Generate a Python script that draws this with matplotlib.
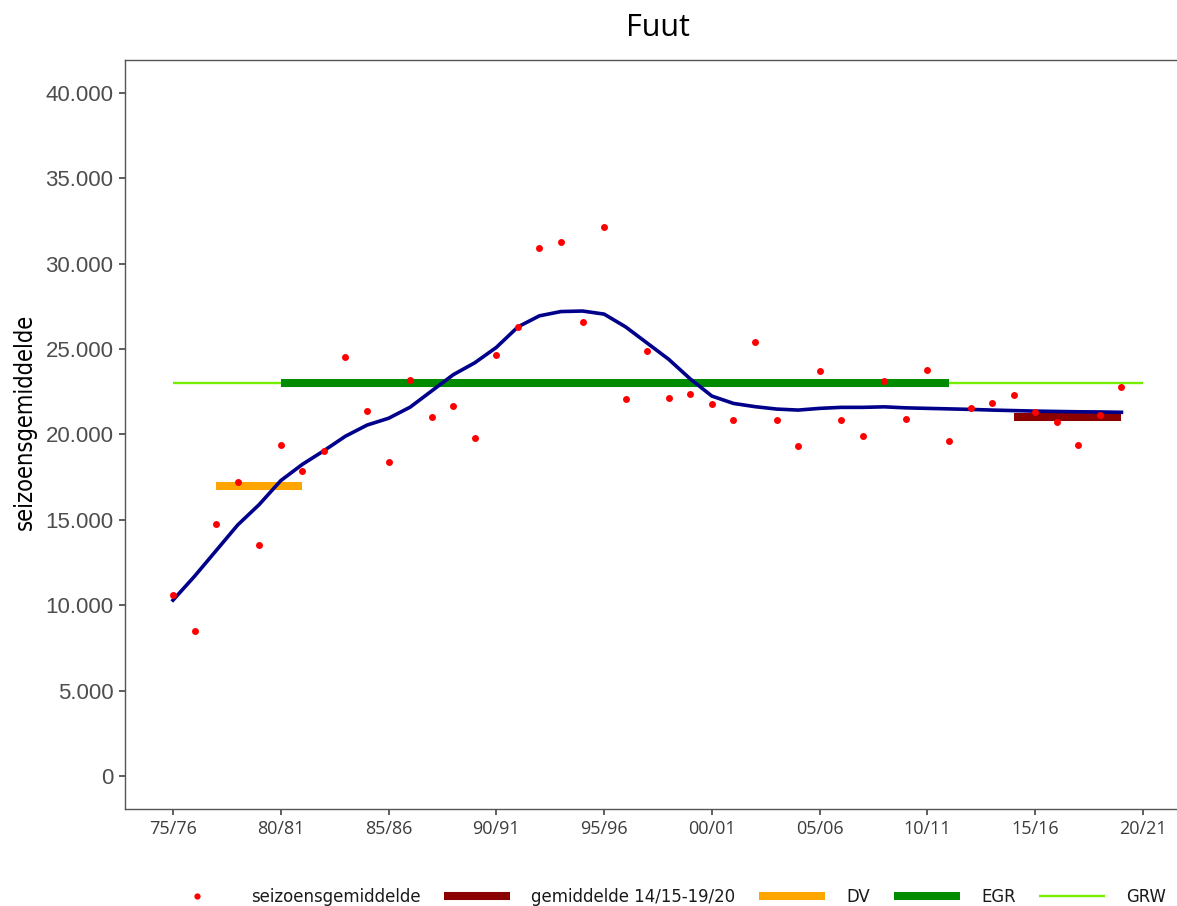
import matplotlib
matplotlib.use("Agg")
import matplotlib.pyplot as plt
from matplotlib import font_manager as fm
from matplotlib.lines import Line2D

# ---------------- data ----------------
seasons = ["75/76", "76/77", "77/78", "78/79", "79/80", "80/81", "81/82", "82/83",
           "83/84", "84/85", "85/86", "86/87", "87/88", "88/89", "89/90", "90/91",
           "91/92", "92/93", "93/94", "94/95", "95/96", "96/97", "97/98", "98/99",
           "99/00", "00/01", "01/02", "02/03", "03/04", "04/05", "05/06", "06/07",
           "07/08", "08/09", "09/10", "10/11", "11/12", "12/13", "13/14", "14/15",
           "15/16", "16/17", "17/18", "18/19", "19/20"]
seizoensgemiddelde = [10600, 8500, 14760, 17220, 13530, 19390, 17860, 19030, 24540,
                      21380, 18390, 23190, 21030, 21670, 19800, 24660, 26300, 30920,
                      31270, 26590, 32150, 22080, 24890, 22140, 22370, 21790, 20850,
                      25420, 20850, 19330, 23720, 20850, 19910, 23130, 20910, 23780,
                      19620, 21550, 21850, 22310, 21320, 20730, 19390, 21140, 22780]
trend = [10300, 11700, 13200, 14700, 15900, 17300, 18250, 19050, 19900, 20550, 20950,
         21600, 22550, 23500, 24200, 25100, 26300, 26950, 27200, 27230, 27050, 26300,
         25350, 24400, 23250, 22250, 21820, 21630, 21490, 21430, 21530, 21590, 21590,
         21620, 21560, 21530, 21500, 21470, 21430, 21400, 21370, 21350, 21330, 21320,
         21300]
xtick_labels = ["75/76", "80/81", "85/86", "90/91", "95/96", "00/01", "05/06",
                "10/11", "15/16", "20/21"]
ytick_values = [0, 5000, 10000, 15000, 20000, 25000, 30000, 35000, 40000]
ytick_labels = ["0", "5.000", "10.000", "15.000", "20.000", "25.000", "30.000",
                "35.000", "40.000"]

grw_level, grw_from, grw_to = 23000, "75/76", "20/21"
egr_level, egr_from, egr_to = 23000, "80/81", "11/12"
dv_level, dv_from, dv_to = 17000, "77/78", "81/82"
mean_level, mean_from, mean_to = 21000, "14/15", "19/20"

# ---------------- fonts ----------------
names = {f.name for f in fm.fontManager.ttflist}
def pick(*cands):
    for c in cands:
        if c in names:
            return c
    return "DejaVu Sans"

cond_fp = None
for f in fm.fontManager.ttflist:
    if "Condensed" in f.fname and "DejaVuSans" in f.fname and "Bold" not in f.fname \
            and "Oblique" not in f.fname:
        cond_fp = fm.FontProperties(fname=f.fname)
        break
if cond_fp is None:
    cond_fp = fm.FontProperties(family=pick("Liberation Sans Narrow", "DejaVu Sans"))

sans = pick("Liberation Sans", "Arial", "DejaVu Sans")
humanist = pick("Open Sans", "Noto Sans", "DejaVu Sans")

# ---------------- positions (category scale) ----------------
all_cats = seasons + ["20/21"]
pos = {s: i for i, s in enumerate(all_cats)}
xs = [pos[s] for s in seasons]

W, H = 1177, 906
fig = plt.figure(figsize=(W / 100, H / 100), dpi=100)
left_px, right_px, top_px, bot_px = 124.5, 1191.5, 60, 809
ax = fig.add_axes([left_px / W, 1 - bot_px / H, (right_px - left_px) / W,
                   (bot_px - top_px) / H])

ax.plot([pos[grw_from], pos[grw_to]], [grw_level] * 2, color="#76EE00", lw=1.7,
        solid_capstyle="butt", zorder=2)
ax.plot([pos[egr_from], pos[egr_to]], [egr_level] * 2, color="#008B00", lw=5.8,
        solid_capstyle="butt", zorder=3)
ax.plot([pos[dv_from], pos[dv_to]], [dv_level] * 2, color="#FFA500", lw=5.8,
        solid_capstyle="butt", zorder=3)
ax.plot([pos[mean_from], pos[mean_to]], [mean_level] * 2, color="#8B0000", lw=5.8,
        solid_capstyle="butt", zorder=3)
ax.plot(xs, trend, color="#00008B", lw=2.6, zorder=4, solid_joinstyle="round")
ax.plot(xs, seizoensgemiddelde, "o", color="#FF0000", ms=5, mew=0, zorder=5)

ax.set_xlim(-2.25, 47.25)
ax.set_ylim(-1930, 41930)
ax.set_xticks([pos[s] for s in xtick_labels])
ax.set_xticklabels(xtick_labels, fontfamily=humanist, fontsize=13, color="#3C3C3C")
ax.set_yticks(ytick_values)
ax.set_yticklabels(ytick_labels, fontfamily=sans, fontsize=16, color="#4D4D4D")
ax.tick_params(axis="both", length=4, width=1.1, color="#333333")
ax.tick_params(axis="y", pad=4)
ax.tick_params(axis="x", pad=4)
for side in ["left", "bottom", "top"]:
    ax.spines[side].set_color("#555555")
    ax.spines[side].set_linewidth(1.0)
ax.spines["right"].set_visible(False)

fig.text((left_px + right_px) / 2 / W, 1 - 28 / H, "Fuut", ha="center", va="center",
         fontsize=22, fontfamily=humanist, color="black")
yl_fp = cond_fp.copy()
yl_fp.set_size(17)
fig.text(25 / W, 1 - 422 / H, "seizoensgemiddelde", rotation=90, ha="center",
         va="center", fontproperties=yl_fp, color="black")

handles = [
    Line2D([], [], ls="none", marker="o", color="#FF0000", ms=4.5, mew=0),
    Line2D([], [], color="#8B0000", lw=5.8, solid_capstyle="butt"),
    Line2D([], [], color="#FFA500", lw=5.8, solid_capstyle="butt"),
    Line2D([], [], color="#008B00", lw=5.8, solid_capstyle="butt"),
    Line2D([], [], color="#76EE00", lw=1.7, solid_capstyle="butt"),
]
labels = ["seizoensgemiddelde", "gemiddelde 14/15-19/20", "DV", "EGR", "GRW"]
lg_fp = cond_fp.copy()
lg_fp.set_size(13.2)
fig.legend(handles, labels, loc="center", bbox_to_anchor=(665 / W, 1 - 897 / H),
           ncol=5, frameon=False, prop=lg_fp, handlelength=3.6, handletextpad=1.15,
           columnspacing=1.3, borderpad=0, borderaxespad=0, labelcolor="#1A1A1A")

fig.savefig("out.png", dpi=100)
